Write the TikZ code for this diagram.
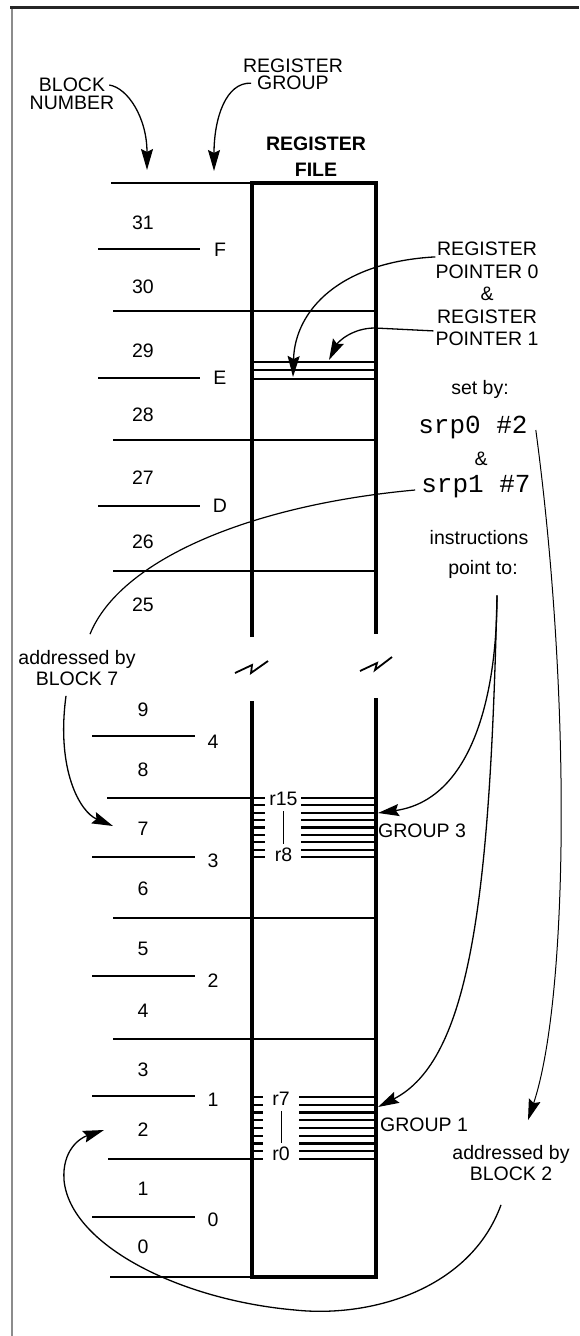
\documentclass[tikz,border=0pt]{standalone}
\usepackage{fontspec}
\setmainfont{Liberation Sans}
\setmonofont{Liberation Mono}
\usetikzlibrary{arrows.meta,positioning}

\begin{document}
\begin{tikzpicture}[x=1pt, y=-1pt,
    lbl/.style={inner sep=0pt, align=center, font=\fontsize{19.5}{22.5}\selectfont},
    addr/.style={inner sep=0pt, align=center, font=\fontsize{19.5}{21}\selectfont},
    code/.style={inner sep=0pt, font=\ttfamily\fontsize{26}{26}\selectfont},
    boxline/.style={line width=4.5pt},
    blockline/.style={line width=2.7pt},
    regline/.style={line width=2.1pt},
    thinline/.style={line width=1.1pt},
    pointer/.style={line width=1.3pt, -{Stealth[length=21pt, width=12pt, inset=3pt]}}]
    \useasboundingbox (0,0) rectangle (579,1336);

    % frame
    \draw[line width=1.3pt, black!45] (12,7) -- (12,1336);
    \draw[line width=3pt, black!85] (10,7.5) -- (579,7.5);

    % headings
    \node[lbl] (blk) at (72,85) {BLOCK};
    \node[lbl, below=4pt of blk] (num) {NUMBER};
    \node[lbl] (rgReg) at (293,66) {REGISTER};
    \node[lbl, below=3pt of rgReg] (rgGrp) {GROUP};
    \node[lbl, font=\bfseries\fontsize{19.5}{26}\selectfont] (rfile) at (316,157) {REGISTER\\FILE};

    % register file
    \draw[boxline] (252,637) -- (252,183) -- (376,183) -- (376,634);
    \draw[boxline] (252,701) -- (252,1277) -- (376,1277) -- (376,698);
    \draw[line width=1.8pt] (235,673) -- (252,665) -- (251,673) -- (268,661);
    \draw[line width=1.8pt] (360,671) -- (377,663) -- (375,670) -- (392,657);

    % block lines
    \draw[blockline] (111,183) -- (252,183);
    \foreach \y in {311,440,571,918,1039}
        \draw[blockline] (113,\y) -- (376,\y);
    \draw[blockline] (107,798) -- (252,798);
    \draw[blockline] (108,1159) -- (252,1159);
    \draw[blockline] (110,1277) -- (252,1277);
    \foreach \y in {249,378,506}
        \draw[blockline] (98,\y) -- (200,\y);
    \foreach \y in {736,857,976,1096,1217}
        \draw[blockline] (92,\y) -- (195,\y);

    % block numbers and register groups
    \foreach \n/\y in {31/223, 30/287, 29/351, 28/415, 27/478, 26/542, 25/605, 9/710, 8/770, 7/829, 6/889, 5/949, 4/1011, 3/1070, 2/1130, 1/1189, 0/1247}
        \node[lbl] (b\n) at (143,\y) {\n};
    \foreach \g/\x/\y in {F/220/250, E/220/378, D/220/506, 4/213/742, 3/213/861, 2/213/981, 1/213/1100, 0/213/1220}
        \node[lbl] (g\g) at (\x,\y) {\g};

    % register pointers
    \foreach \y in {362,370,379}
        \draw[thinline] (252,\y) -- (376,\y);

    % working registers
    \foreach \i in {0,...,8} {
        \draw[regline] (252,{798+7.375*\i}) -- (265,{798+7.375*\i});
        \draw[regline] (301,{798+7.375*\i}) -- (376,{798+7.375*\i});
        \draw[regline] (252,{1097+7.75*\i}) -- (263,{1097+7.75*\i});
        \draw[regline] (299,{1097+7.75*\i}) -- (376,{1097+7.75*\i});
    }
    \node[lbl] (r15) at (283.5,799) {r15};
    \node[lbl] (r8) at (283.5,855) {r8};
    \node[lbl] (r7) at (281,1099) {r7};
    \node[lbl] (r0) at (281,1154) {r0};
    \draw[line width=1pt, shorten <=5pt, shorten >=4pt] (r15) -- (r8);
    \draw[line width=1pt, shorten <=5pt, shorten >=4pt] (r7) -- (r0);
    \node[lbl, anchor=west] (grp3) at (378,831) {GROUP 3};
    \node[lbl, anchor=west] (grp1) at (380,1125) {GROUP 1};

    % right hand notes
    \node[lbl] (rptr) at (487,294) {REGISTER\\POINTER 0\\\&\\REGISTER\\POINTER 1};
    \node[lbl] (setby) at (480,389) {set by:};
    \node[code] (srp0) at (473,427) {srp0 \#2};
    \node[lbl] (amp) at (481,459) {\&};
    \node[code] (srp1) at (476,487) {srp1 \#7};
    \node[lbl] (instr) at (479,538) {instructions};
    \node[lbl] (pointto) at (483,569) {point to:};
    \node[addr] (addr7) at (77,668) {addressed by\\BLOCK 7};
    \node[addr] (addr2) at (511,1163) {addressed by\\BLOCK 2};

    % arrows
    \coordinate (bnTip) at (147,170);
    \coordinate (rgTip) at (214,171);
    \coordinate (rp0Tip) at (293,377);
    \coordinate (rp1Tip) at (329,360);
    \coordinate (b7Tip) at (113,826);
    \coordinate (b2Tip) at (104,1130);
    \draw[pointer] ([xshift=4pt]blk.east) .. controls (128,88) and (147,118) .. (bnTip);
    \draw[pointer] ([xshift=-6pt]rgGrp.west) .. controls (226,82) and (214,118) .. (rgTip);
    \draw[pointer] ([shift={(0,15)}]rptr.north west) .. controls (340,262) and (295,310) .. (rp0Tip);
    \draw[pointer] ([shift={(-2,89)}]rptr.north west) -- (375,328) .. controls (352,328) and (338,342) .. (rp1Tip);
    \draw[line width=1.2pt] ([shift={(-6,3)}]srp1.west) .. controls (250,505) and (120,560) .. ([shift={(13,-16)}]addr7.north);
    \draw[pointer] ([shift={(-11,10)}]addr7.south) .. controls (56,770) and (80,812) .. (b7Tip);
    \draw[pointer] ([shift={(14,17)}]pointto.south) .. controls (497,700) and (470,800) .. ([shift={(0,-18)}]grp3.west);
    \draw[pointer] ([shift={(14,17)}]pointto.south) .. controls (490,900) and (470,1060) .. ([shift={(-2,-18)}]grp1.west);
    \draw[pointer, line width=1pt] ([shift={(8,3)}]srp0.east) .. controls (572,700) and (568,1000) .. ([shift={(17,-25)}]addr2.north);
    \draw[pointer] ([shift={(-10,24)}]addr2.south) .. controls (470,1290) and (370,1318) .. (295,1310)
        .. controls (180,1300) and (70,1245) .. (64,1180) .. controls (62,1150) and (80,1138) .. (b2Tip);
\end{tikzpicture}
\end{document}
